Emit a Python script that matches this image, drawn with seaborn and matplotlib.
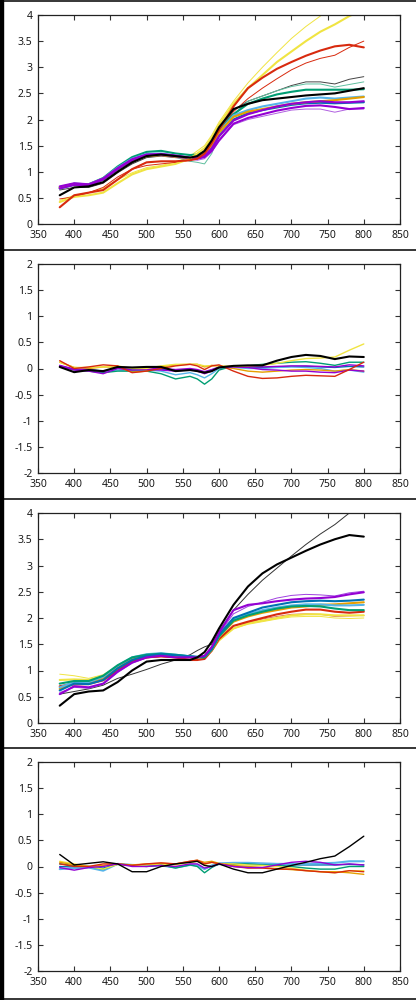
import numpy as np
import pandas as pd
import seaborn as sns
import matplotlib.pyplot as plt
from matplotlib.lines import Line2D
from matplotlib.patches import Rectangle
from matplotlib.ticker import FormatStrFormatter, MultipleLocator

sns.set_style("ticks")
plt.rcParams["font.family"] = ["Noto Sans", "DejaVu Sans"]
plt.rcParams["axes.unicode_minus"] = False

# wavelength grid (nm)
wl = [380, 400, 420, 440, 460, 480, 500, 520, 540, 560, 570, 580,
      590, 600, 620, 640, 660, 680, 700, 720, 740, 760, 780, 800]

# gnuplot default line colours
PURPLE = "#9400D3"
GREEN = "#009E73"
LBLUE = "#56B4E9"
ORANGE = "#E69F00"
YELLOW = "#F0E442"
BLUE = "#0072B2"
RED = "#D82A0E"
BLACK = "#000000"

# ---- panel 1 : spectra, set A ----
p1_black = [0.55, 0.70, 0.72, 0.80, 1.00, 1.18, 1.30, 1.33, 1.30, 1.27, 1.30, 1.40,
            1.60, 1.85, 2.20, 2.30, 2.37, 2.40, 2.43, 2.46, 2.48, 2.50, 2.55, 2.60]
p1_black_t = [0.65, 0.70, 0.70, 0.78, 0.98, 1.15, 1.27, 1.30, 1.27, 1.25, 1.27, 1.35,
              1.55, 1.80, 2.18, 2.35, 2.45, 2.55, 2.65, 2.72, 2.72, 2.68, 2.77, 2.82]
p1_red = [0.32, 0.55, 0.60, 0.65, 0.85, 1.05, 1.18, 1.20, 1.20, 1.22, 1.25, 1.35,
          1.55, 1.80, 2.25, 2.60, 2.80, 2.97, 3.10, 3.22, 3.32, 3.40, 3.43, 3.38]
p1_red_t = [0.48, 0.52, 0.60, 0.70, 0.90, 1.05, 1.12, 1.15, 1.18, 1.22, 1.28, 1.38,
            1.55, 1.78, 2.15, 2.40, 2.60, 2.78, 2.95, 3.08, 3.17, 3.23, 3.38, 3.50]
p1_yellow = [0.42, 0.52, 0.55, 0.60, 0.78, 0.95, 1.05, 1.10, 1.15, 1.25, 1.35, 1.45,
             1.65, 1.90, 2.30, 2.60, 2.85, 3.10, 3.30, 3.50, 3.68, 3.82, 3.98, 4.10]
p1_yellow_t = [0.45, 0.55, 0.60, 0.68, 0.85, 0.98, 1.08, 1.12, 1.18, 1.30, 1.40, 1.50,
               1.70, 1.95, 2.35, 2.70, 3.00, 3.28, 3.55, 3.78, 3.98, 4.20, 4.40, 4.60]
p1_green = [0.70, 0.77, 0.76, 0.88, 1.10, 1.28, 1.38, 1.40, 1.35, 1.32, 1.33, 1.38,
            1.55, 1.80, 2.10, 2.30, 2.40, 2.48, 2.53, 2.57, 2.57, 2.57, 2.57, 2.58]
p1_green_t = [0.68, 0.75, 0.74, 0.85, 1.05, 1.25, 1.35, 1.35, 1.28, 1.20, 1.18, 1.15,
              1.35, 1.70, 2.10, 2.35, 2.45, 2.55, 2.63, 2.68, 2.68, 2.62, 2.67, 2.72]
p1_purple = [0.68, 0.75, 0.74, 0.85, 1.05, 1.22, 1.32, 1.33, 1.30, 1.26, 1.25, 1.28,
             1.40, 1.60, 1.92, 2.03, 2.10, 2.17, 2.22, 2.26, 2.27, 2.24, 2.20, 2.22]
p1_purple_t = [0.72, 0.78, 0.76, 0.86, 1.05, 1.20, 1.30, 1.31, 1.28, 1.24, 1.22, 1.25,
               1.38, 1.58, 1.90, 2.00, 2.06, 2.12, 2.18, 2.20, 2.20, 2.14, 2.20, 2.20]
p1_purple2 = [0.72, 0.78, 0.76, 0.87, 1.07, 1.24, 1.33, 1.34, 1.31, 1.27, 1.27, 1.30,
              1.45, 1.68, 1.98, 2.10, 2.18, 2.25, 2.30, 2.33, 2.35, 2.33, 2.33, 2.35]
p1_orange = [0.70, 0.76, 0.75, 0.86, 1.06, 1.22, 1.30, 1.32, 1.29, 1.26, 1.27, 1.32,
             1.50, 1.75, 2.05, 2.15, 2.20, 2.25, 2.30, 2.33, 2.35, 2.37, 2.40, 2.43]
p1_lblue = [0.70, 0.77, 0.76, 0.87, 1.08, 1.25, 1.34, 1.35, 1.31, 1.27, 1.28, 1.33,
            1.52, 1.76, 2.08, 2.18, 2.25, 2.30, 2.35, 2.40, 2.42, 2.40, 2.42, 2.44]
p1_blue = [0.68, 0.75, 0.74, 0.85, 1.05, 1.22, 1.32, 1.33, 1.30, 1.26, 1.26, 1.30,
           1.45, 1.68, 2.00, 2.12, 2.18, 2.23, 2.28, 2.31, 2.32, 2.31, 2.32, 2.33]

# ---- panel 2 : differences, set A ----
p2_black = [0.03, -0.07, -0.03, -0.05, 0.03, 0.02, 0.03, 0.03, -0.05, -0.03, -0.05, -0.08,
            -0.05, 0.02, 0.05, 0.06, 0.06, 0.15, 0.22, 0.26, 0.24, 0.18, 0.23, 0.22]
p2_yellow = [0.12, 0.02, 0.02, 0.03, 0.05, 0.00, 0.00, 0.05, 0.08, 0.08, 0.08, 0.05,
             0.05, 0.05, 0.04, 0.05, 0.06, 0.10, 0.15, 0.19, 0.20, 0.22, 0.35, 0.47]
p2_green = [0.05, -0.02, -0.05, -0.08, -0.05, -0.05, -0.05, -0.10, -0.20, -0.15, -0.20, -0.30,
            -0.20, -0.03, 0.05, 0.05, 0.08, 0.10, 0.12, 0.13, 0.10, 0.06, 0.12, 0.12]
p2_red = [0.15, 0.00, 0.03, 0.07, 0.05, -0.08, -0.05, 0.00, 0.05, 0.08, 0.05, -0.02,
          0.05, 0.07, -0.05, -0.15, -0.19, -0.18, -0.15, -0.13, -0.14, -0.15, -0.02, 0.12]
p2_orange = [0.12, 0.02, 0.00, 0.03, 0.03, -0.07, -0.05, 0.03, 0.07, 0.08, 0.08, 0.03,
             0.06, 0.05, 0.00, -0.05, -0.07, -0.05, -0.03, -0.02, -0.03, -0.05, -0.02, -0.05]
p2_lblue = [0.05, -0.02, -0.03, -0.05, -0.03, -0.05, -0.03, -0.05, -0.12, -0.08, -0.12, -0.18,
            -0.10, 0.00, 0.02, 0.00, 0.00, 0.02, 0.03, 0.02, 0.00, -0.05, -0.03, -0.07]
p2_purple = [0.05, -0.03, -0.05, -0.10, 0.00, -0.03, -0.02, -0.03, -0.05, -0.02, -0.05, -0.10,
             -0.05, 0.02, 0.03, 0.02, -0.02, -0.03, -0.05, -0.05, -0.07, -0.08, -0.03, -0.05]
p2_purple2 = [0.06, -0.01, -0.02, -0.06, 0.02, 0.00, 0.00, 0.00, -0.02, 0.00, -0.02, -0.06,
              -0.02, 0.03, 0.04, 0.04, 0.03, 0.04, 0.05, 0.05, 0.04, 0.03, 0.07, 0.05]
p2_blue = [0.03, -0.02, -0.02, -0.05, 0.00, -0.02, 0.00, -0.01, -0.04, -0.02, -0.04, -0.07,
           -0.03, 0.02, 0.03, 0.03, 0.02, 0.03, 0.04, 0.04, 0.03, 0.02, 0.04, 0.03]

# ---- panel 3 : spectra, set B ----
p3_black = [0.33, 0.55, 0.60, 0.62, 0.78, 1.00, 1.17, 1.20, 1.20, 1.20, 1.25, 1.35,
            1.55, 1.80, 2.25, 2.60, 2.85, 3.02, 3.15, 3.28, 3.40, 3.50, 3.58, 3.55]
p3_black_t = [0.55, 0.60, 0.65, 0.72, 0.85, 0.93, 1.02, 1.12, 1.20, 1.30, 1.38, 1.45,
              1.50, 1.75, 2.15, 2.45, 2.72, 2.95, 3.18, 3.40, 3.60, 3.78, 4.00, 4.20]
p3_purple = [0.55, 0.70, 0.68, 0.75, 0.98, 1.15, 1.25, 1.28, 1.25, 1.25, 1.25, 1.28,
             1.45, 1.72, 2.15, 2.25, 2.28, 2.32, 2.35, 2.37, 2.38, 2.40, 2.45, 2.49]
p3_purple_t = [0.58, 0.68, 0.66, 0.74, 0.96, 1.14, 1.24, 1.27, 1.25, 1.24, 1.24, 1.27,
               1.43, 1.70, 2.08, 2.22, 2.30, 2.38, 2.43, 2.45, 2.44, 2.42, 2.48, 2.51]
p3_blue = [0.62, 0.75, 0.74, 0.82, 1.04, 1.20, 1.28, 1.31, 1.29, 1.27, 1.26, 1.27,
           1.42, 1.68, 2.00, 2.10, 2.20, 2.25, 2.30, 2.32, 2.33, 2.32, 2.33, 2.35]
p3_green = [0.75, 0.80, 0.80, 0.90, 1.10, 1.25, 1.30, 1.32, 1.30, 1.27, 1.25, 1.25,
            1.40, 1.65, 1.95, 2.05, 2.12, 2.18, 2.22, 2.23, 2.22, 2.18, 2.15, 2.15]
p3_red = [0.70, 0.75, 0.75, 0.82, 1.00, 1.18, 1.25, 1.27, 1.25, 1.20, 1.20, 1.22,
          1.38, 1.60, 1.85, 1.93, 2.00, 2.07, 2.12, 2.16, 2.16, 2.12, 2.10, 2.12]
p3_red_t = [0.68, 0.72, 0.73, 0.80, 0.98, 1.16, 1.24, 1.26, 1.24, 1.21, 1.21, 1.23,
            1.37, 1.58, 1.85, 1.92, 1.98, 2.03, 2.07, 2.08, 2.07, 2.03, 2.04, 2.05]
p3_yellow = [0.82, 0.83, 0.82, 0.90, 1.08, 1.22, 1.28, 1.30, 1.28, 1.25, 1.24, 1.25,
             1.38, 1.58, 1.80, 1.90, 1.95, 2.00, 2.05, 2.07, 2.07, 2.05, 2.05, 2.05]
p3_yellow_t = [0.93, 0.90, 0.85, 0.92, 1.08, 1.22, 1.28, 1.30, 1.28, 1.25, 1.23, 1.24,
               1.37, 1.56, 1.80, 1.88, 1.93, 1.98, 2.02, 2.03, 2.03, 2.00, 1.99, 2.00]
p3_orange = [0.65, 0.76, 0.76, 0.85, 1.06, 1.22, 1.29, 1.31, 1.29, 1.26, 1.25, 1.26,
             1.40, 1.64, 1.93, 2.03, 2.10, 2.15, 2.20, 2.22, 2.25, 2.26, 2.28, 2.30]
p3_lblue = [0.68, 0.78, 0.78, 0.88, 1.09, 1.25, 1.31, 1.33, 1.30, 1.27, 1.26, 1.26,
            1.40, 1.65, 1.97, 2.07, 2.15, 2.20, 2.24, 2.26, 2.26, 2.24, 2.24, 2.25]

# ---- panel 4 : differences, set B ----
p4_black = [0.23, 0.03, 0.06, 0.09, 0.05, -0.10, -0.10, 0.00, 0.05, 0.08, 0.10, 0.02,
            0.00, 0.05, -0.05, -0.12, -0.12, -0.05, 0.02, 0.08, 0.15, 0.20, 0.38, 0.58]
p4_purple = [-0.02, -0.07, -0.02, 0.00, 0.05, 0.00, 0.00, 0.02, 0.00, 0.05, 0.05, -0.03,
             0.00, 0.05, 0.00, -0.02, -0.02, 0.03, 0.08, 0.10, 0.08, 0.03, 0.05, 0.03]
p4_red = [0.05, 0.00, 0.00, 0.05, 0.05, 0.02, 0.05, 0.07, 0.05, 0.10, 0.12, 0.05,
          0.08, 0.05, 0.00, -0.03, -0.03, -0.05, -0.05, -0.08, -0.10, -0.12, -0.08, -0.10]
p4_orange = [0.08, 0.03, 0.00, 0.02, 0.05, 0.03, 0.05, 0.06, 0.05, 0.10, 0.12, 0.08,
             0.10, 0.06, 0.02, 0.00, -0.02, -0.04, -0.06, -0.08, -0.10, -0.10, -0.12, -0.15]
p4_yellow = [0.10, 0.05, 0.00, -0.05, 0.04, 0.02, 0.03, 0.05, 0.03, 0.08, 0.10, 0.04,
             0.08, 0.05, 0.05, 0.03, 0.02, 0.00, -0.03, -0.07, -0.10, -0.12, -0.08, -0.08]
p4_green = [0.05, 0.02, 0.00, -0.05, 0.05, 0.02, 0.00, 0.03, -0.03, 0.03, 0.00, -0.12,
            -0.02, 0.05, 0.05, 0.05, 0.03, 0.02, 0.00, -0.03, -0.05, -0.05, 0.00, 0.00]
p4_lblue = [-0.05, -0.03, -0.02, -0.08, 0.05, 0.03, 0.02, 0.02, -0.02, 0.03, 0.02, -0.05,
            0.02, 0.06, 0.07, 0.07, 0.06, 0.05, 0.05, 0.05, 0.06, 0.07, 0.10, 0.10]
p4_blue = [0.00, -0.01, 0.00, -0.03, 0.04, 0.02, 0.01, 0.02, -0.01, 0.03, 0.02, -0.04,
           0.01, 0.04, 0.04, 0.04, 0.03, 0.03, 0.03, 0.03, 0.03, 0.03, 0.04, 0.03]

THICK, MID, THIN = 1.5, 1.0, 0.7

panels = [
    # (series, ylim, axes rect in pixels: left, top, right, bottom)
    ([(p1_yellow_t, YELLOW, THIN), (p1_red_t, RED, THIN), (p1_black_t, "#444444", THIN),
      (p1_green_t, "#5fbf9f", THIN), (p1_purple_t, "#b060e0", THIN),
      (p1_blue, BLUE, THICK), (p1_green, GREEN, THICK), (p1_lblue, LBLUE, THICK),
      (p1_orange, ORANGE, THICK), (p1_purple2, PURPLE, THICK), (p1_purple, PURPLE, THICK),
      (p1_yellow, YELLOW, THICK), (p1_red, RED, THICK), (p1_black, BLACK, THICK)],
     (0, 4), (38, 15, 400, 224)),
    ([(p2_blue, BLUE, MID), (p2_lblue, LBLUE, MID), (p2_green, GREEN, MID),
      (p2_orange, ORANGE, MID), (p2_purple, PURPLE, MID), (p2_purple2, PURPLE, MID),
      (p2_yellow, YELLOW, MID), (p2_red, RED, MID), (p2_black, BLACK, THICK)],
     (-2, 2), (38, 264, 400, 473)),
    ([(p3_black_t, "#333333", THIN), (p3_yellow_t, YELLOW, THIN), (p3_red_t, "#e07060", THIN),
      (p3_purple_t, "#a040e0", THIN), (p3_yellow, YELLOW, THICK), (p3_red, RED, THICK),
      (p3_orange, ORANGE, THICK), (p3_lblue, LBLUE, THICK), (p3_green, GREEN, THICK),
      (p3_blue, BLUE, THICK), (p3_purple, PURPLE, THICK), (p3_black, BLACK, THICK)],
     (0, 4), (38, 513, 400, 723)),
    ([(p4_blue, BLUE, MID), (p4_lblue, LBLUE, THICK), (p4_green, GREEN, MID),
      (p4_yellow, YELLOW, MID), (p4_orange, ORANGE, MID), (p4_red, RED, MID),
      (p4_purple, PURPLE, MID), (p4_black, BLACK, MID)],
     (-2, 2), (38, 762, 400, 971)),
]

W, H = 416, 1000
fig = plt.figure(figsize=(W / 100, H / 100), dpi=100)
fig.patch.set_facecolor("white")

for series, ylim, (l, t, r, b) in panels:
    ax = fig.add_axes([l / W, 1 - b / H, (r - l) / W, (b - t) / H])
    for vals, col, lw in series:
        sns.lineplot(x=wl, y=vals, color=col, linewidth=lw, ax=ax)
    ax.set_xlim(350, 850)
    ax.set_ylim(*ylim)
    ax.xaxis.set_major_locator(MultipleLocator(50))
    ax.yaxis.set_major_locator(MultipleLocator(0.5))
    ax.yaxis.set_major_formatter(FormatStrFormatter("%g"))
    ax.tick_params(direction="in", length=3.5, width=0.8, color="#333333",
                   top=True, right=True, labelsize=7.5, labelcolor="#1a1a1a", pad=4)
    for s in ax.spines.values():
        s.set_visible(True)
        s.set_linewidth(0.9)
        s.set_color("#222222")
    ax.set_xlabel("")
    ax.set_ylabel("")

# page frame: left bar and separators between the stacked plots
fig.patches.append(Rectangle((0, 0), 3 / W, 1, transform=fig.transFigure,
                             color="black", zorder=10))
for yp in [0.5, 250, 499, 748, 998.5]:
    fig.add_artist(Line2D([0, 1], [1 - yp / H, 1 - yp / H], transform=fig.transFigure,
                          color="black", linewidth=1.1))

fig.savefig("out.png", dpi=100)
